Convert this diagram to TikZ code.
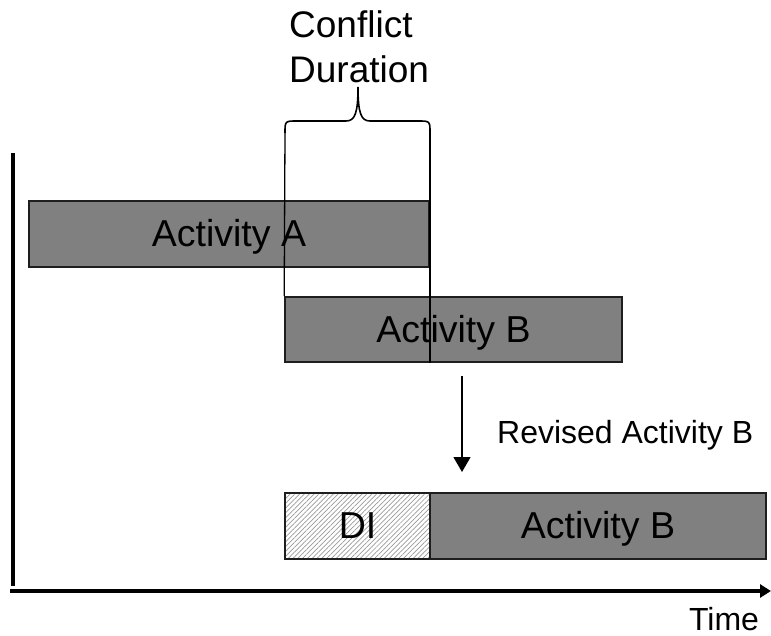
\documentclass[tikz,border=0pt]{standalone}
\usepackage{fontspec}
\setmainfont{Liberation Sans}
\usetikzlibrary{arrows.meta,patterns.meta}
\definecolor{barfill}{HTML}{808080}
\definecolor{barline}{HTML}{1E1E1E}
\begin{document}
\begin{tikzpicture}[x=1pt,y=-1pt,
  bar/.style={draw=barline,line width=1.6pt,fill=barfill,inner sep=0pt,
    text height=26pt,text depth=1pt,
    font=\fontsize{37.5}{45}\selectfont},
  delaybar/.style={draw=barline,line width=1.6pt,inner sep=0pt,
    text height=26pt,text depth=1pt,
    pattern={Lines[angle=45,distance=3.4pt,line width=0.7pt]},pattern color=gray!80,
    font=\fontsize{37.5}{45}\selectfont},
  axis/.style={line width=3.2pt},
  marker/.style={line width=1.3pt},
  bigtext/.style={inner sep=0pt,font=\fontsize{37}{45}\selectfont},
  smalltext/.style={inner sep=0pt,font=\fontsize{32}{38}\selectfont}
]
\useasboundingbox (0,0) rectangle (771,635);

% time axes
\coordinate (ytop) at (13,153);
\coordinate (ybot) at (13,586);
\coordinate (xstart) at (10,591);
\coordinate (xend) at (771,591);
\draw[axis] (ytop) -- (ybot);
\draw[axis,-{Triangle[width=13pt,length=11pt]}] (xstart) -- (xend);
\node[smalltext,anchor=base] (time) at (724,630) {Time};

% original schedule
\node[bar,minimum width=400pt,minimum height=66pt] (A) at (229,234) {Activity A};
\node[bar,minimum width=337pt,minimum height=65pt] (B) at (453.5,329.5) {Activity B};

% revised schedule
\node[delaybar,minimum width=145pt,minimum height=66pt] (DI) at (357.5,526) {DI};
\node[bar,minimum width=336pt,minimum height=66pt] (B2) at (598,526) {Activity B};

% overlap markers and brace
\coordinate (bl) at (285,133);
\coordinate (br) at (430,133);
\coordinate (tip) at (358,87);
\draw[marker] (bl) -- (B.north west);
\draw[marker] (br) -- (br |- B.south);
\draw[line width=1.6pt] (bl) .. controls (285,121) .. (297,121) -- (346,121)
  .. controls (355,121) and (358,113) .. (tip)
  .. controls (358,113) and (361,121) .. (370,121) -- (418,121)
  .. controls (430,121) .. (br);
\node[bigtext,anchor=base west] (conflict) at (289,37) {Conflict};
\node[bigtext,anchor=base west] (duration) at (289,82) {Duration};

% revision arrow
\coordinate (revtop) at (462,376);
\coordinate (revend) at (462,472);
\draw[marker,-{Triangle[width=17pt,length=15pt]}] (revtop) -- (revend);
\node[smalltext,anchor=base west] (revised) at (497,443) {Revised Activity B};
\end{tikzpicture}
\end{document}
